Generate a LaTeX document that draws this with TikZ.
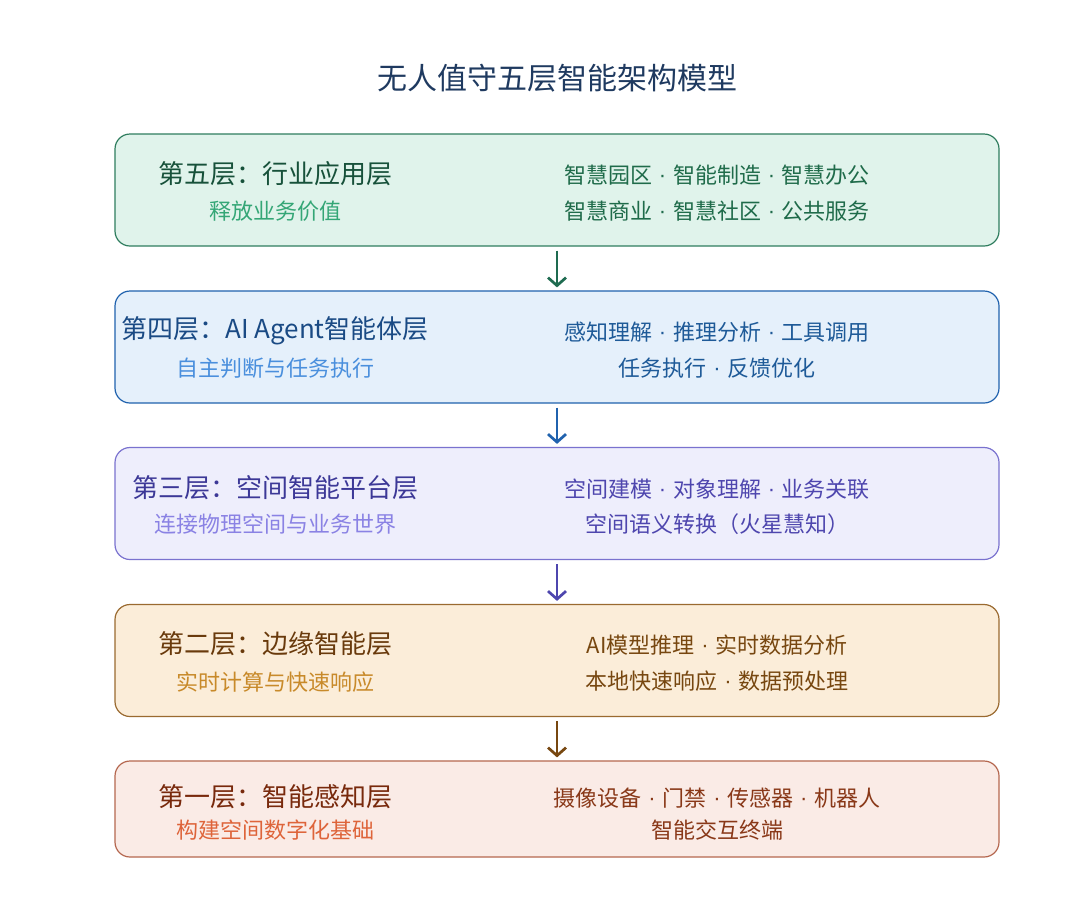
\documentclass[tikz,border=0pt]{standalone}
\usepackage{fontspec}
\setmainfont{Noto Sans CJK SC}
\newfontfamily\latinf{Liberation Sans}
\usetikzlibrary{arrows.meta}
\newcommand\sepdot{\makebox[0.95em]{\raisebox{0.05em}{\latinf ·}}}
\definecolor{titlec}{HTML}{1F3A60}
% layer 5 green
\definecolor{gfill}{HTML}{E0F3EB}
\definecolor{gline}{HTML}{2F7D5E}
\definecolor{garr}{HTML}{1E6B50}
\definecolor{gtit}{HTML}{17513A}
\definecolor{gsub}{HTML}{34A676}
\definecolor{gtxt}{HTML}{1F6B4A}
% layer 4 blue
\definecolor{bfill}{HTML}{E5F0FB}
\definecolor{bline}{HTML}{2062AE}
\definecolor{btit}{HTML}{1A4A84}
\definecolor{bsub}{HTML}{4A8FDD}
\definecolor{btxt}{HTML}{1E5A98}
% layer 3 purple
\definecolor{pfill}{HTML}{EEEEFC}
\definecolor{pline}{HTML}{7A72CF}
\definecolor{ptit}{HTML}{3C3897}
\definecolor{psub}{HTML}{8A82E4}
\definecolor{ptxt}{HTML}{4E46AE}
% layer 2 orange
\definecolor{ofill}{HTML}{FBEDD9}
\definecolor{oline}{HTML}{9A6A30}
\definecolor{otit}{HTML}{693A0C}
\definecolor{osub}{HTML}{C88A2A}
\definecolor{otxt}{HTML}{774710}
% layer 1 red
\definecolor{rfill}{HTML}{FAEBE6}
\definecolor{rline}{HTML}{B5674F}
\definecolor{rtit}{HTML}{78290C}
\definecolor{rsub}{HTML}{DE643A}
\definecolor{rtxt}{HTML}{893818}
\tikzset{
  layerbox/.style={draw, rectangle, rounded corners=15pt, line width=1.2pt,
    minimum width=884pt, inner sep=0pt},
  ltitle/.style={font=\fontsize{26}{30}\selectfont, inner sep=0pt, anchor=center},
  lsub/.style={font=\fontsize{22}{26}\selectfont, inner sep=0pt, anchor=center},
  rtext/.style={font=\fontsize{22}{26}\selectfont, inner sep=0pt, anchor=center},
  flow/.style={line width=2.7pt, -{Straight Barb[length=8pt,width=18pt]}, shorten <=4pt, shorten >=3pt},
}
\begin{document}
\begin{tikzpicture}[x=1pt,y=-1pt]
\useasboundingbox[fill=white] (0,0) rectangle (1081,903);
\node[font=\fontsize{30}{34}\selectfont, text=titlec, inner sep=0pt] (title) at (557,78) {无人值守五层智能架构模型};

\node[layerbox, fill=gfill, draw=gline, minimum height=112pt] (b5) at (557,190) {};
\node[layerbox, fill=bfill, draw=bline, minimum height=112pt] (b4) at (557,347) {};
\node[layerbox, fill=pfill, draw=pline, minimum height=112pt] (b3) at (557,503.5) {};
\node[layerbox, fill=ofill, draw=oline, minimum height=112pt] (b2) at (557,660.5) {};
\node[layerbox, fill=rfill, draw=rline, minimum height=96pt] (b1) at (557,809) {};

% layer 5
\node[ltitle, text=gtit] (t5) at (275,174) {第五层：行业应用层};
\node[lsub, text=gsub] (s5) at (275,211) {释放业务价值};
\node[rtext, text=gtxt] (r5a) at (717,175) {智慧园区\sepdot 智能制造\sepdot 智慧办公};
\node[rtext, text=gtxt] (r5b) at (717,211) {智慧商业\sepdot 智慧社区\sepdot 公共服务};
% layer 4
\node[ltitle, text=btit] (t4) at (275,331) {第四层：AI Agent智能体层};
\node[lsub, text=bsub] (s4) at (275,368) {自主判断与任务执行};
\node[rtext, text=btxt] (r4a) at (717,332) {感知理解\sepdot 推理分析\sepdot 工具调用};
\node[rtext, text=btxt] (r4b) at (717,368) {任务执行\sepdot 反馈优化};
% layer 3
\node[ltitle, text=ptit] (t3) at (275,488) {第三层：空间智能平台层};
\node[lsub, text=psub] (s3) at (275,524) {连接物理空间与业务世界};
\node[rtext, text=ptxt] (r3a) at (717,489) {空间建模\sepdot 对象理解\sepdot 业务关联};
\node[rtext, text=ptxt] (r3b) at (717,524) {空间语义转换（火星慧知）};
% layer 2
\node[ltitle, text=otit] (t2) at (275,644) {第二层：边缘智能层};
\node[lsub, text=osub] (s2) at (275,682) {实时计算与快速响应};
\node[rtext, text=otxt] (r2a) at (717,645) {AI模型推理\sepdot 实时数据分析};
\node[rtext, text=otxt] (r2b) at (717,681) {本地快速响应\sepdot 数据预处理};
% layer 1
\node[ltitle, text=rtit] (t1) at (275,797) {第一层：智能感知层};
\node[lsub, text=rsub] (s1) at (275,830) {构建空间数字化基础};
\node[rtext, text=rtxt] (r1a) at (717,798) {摄像设备\sepdot 门禁\sepdot 传感器\sepdot 机器人};
\node[rtext, text=rtxt] (r1b) at (717,830) {智能交互终端};

% connectors
\draw[flow, draw=garr] (b5.south) -- (b4.north);
\draw[flow, draw=bline] (b4.south) -- (b3.north);
\draw[flow, draw=ptxt] (b3.south) -- (b2.north);
\draw[flow, draw=otxt] (b2.south) -- (b1.north);
\end{tikzpicture}
\end{document}
